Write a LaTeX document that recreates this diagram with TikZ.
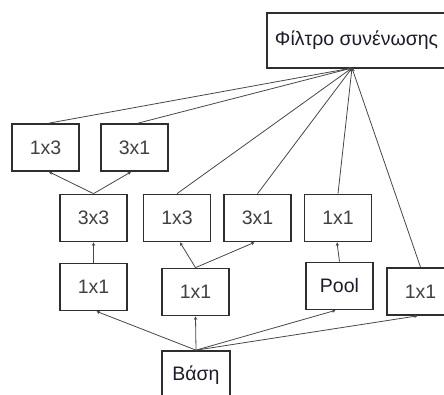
\documentclass[tikz,border=0pt]{standalone}
\usepackage{fontspec}
\setmainfont{Liberation Sans}
\usetikzlibrary{arrows.meta}
\definecolor{boxline}{HTML}{2E2E2E}
\definecolor{wire}{HTML}{474747}
\definecolor{lbl}{HTML}{404040}
\definecolor{glbl}{HTML}{1C1C2A}
\begin{document}
\begin{tikzpicture}[x=1pt,y=-1pt,
  blk/.style={draw=boxline,line width=1.7pt,fill=white,minimum width=67pt,
    minimum height=47pt,inner sep=0pt,text=lbl,
    font=\fontsize{19.5}{22}\selectfont},
  gblk/.style={blk,text=glbl},
  link/.style={draw=wire,line width=0.8pt,-{Stealth[length=3.5pt,width=3.5pt]}}]
\useasboundingbox (0,0) rectangle (444,394);
\begin{scope}
\clip (0,0) rectangle (444,394);
% concatenation filter
\node[gblk,minimum width=190pt,minimum height=55pt] (cat) at (362,40.5) {Φίλτρο συνένωσης\hspace*{11pt}};
\coordinate (hub) at (352,68);
% upper pair
\node[blk] (a13) at (45.5,147.5) {1x3};
\node[blk] (a31) at (134.5,147.5) {3x1};
% middle row
\node[blk] (b33) at (93.5,218) {3x3};
\node[blk] (b13) at (177,218) {1x3};
\node[blk] (b31) at (257.5,218) {3x1};
\node[blk] (b11) at (338,218) {1x1};
% lower row
\node[blk] (c11) at (93.5,287) {1x1};
\node[blk] (d11) at (195.5,292) {1x1};
\node[gblk] (pool) at (339.5,286) {Pool};
\node[blk] (e11) at (420.5,291.5) {1x1};
% input
\node[gblk,minimum width=68pt,minimum height=48pt] (base) at (196,375) {Βάση};
% input to first layer
\draw[link] (base.north) -- ([xshift=3pt]c11.south);
\draw[link] (base.north) -- (d11.south);
\draw[link] (base.north) -- ([xshift=-4pt]pool.south);
\draw[link] (base.north) -- ([xshift=-3pt]e11.south);
% first to second layer
\draw[link] (c11.north) -- (b33.south);
\draw[link] (d11.north) -- ([xshift=3pt]b13.south);
\draw[link] (d11.north) -- ([xshift=-3pt]b31.south);
\draw[link] (pool.north) -- ([xshift=-1pt]b11.south);
\draw[link] (b33.north) -- ([xshift=3.5pt]a13.south);
\draw[link] (b33.north) -- ([xshift=-3.5pt]a31.south);
% into the concatenation filter
\draw[link] ([xshift=3.5pt]a13.north) -- (hub);
\draw[link] ([xshift=3.5pt]a31.north) -- (hub);
\draw[link] (b13.north) -- (hub);
\draw[link] (b31.north) -- (hub);
\draw[link] (b11.north) -- (hub);
\draw[link] (e11.north) -- (hub);
\end{scope}
\end{tikzpicture}
\end{document}
